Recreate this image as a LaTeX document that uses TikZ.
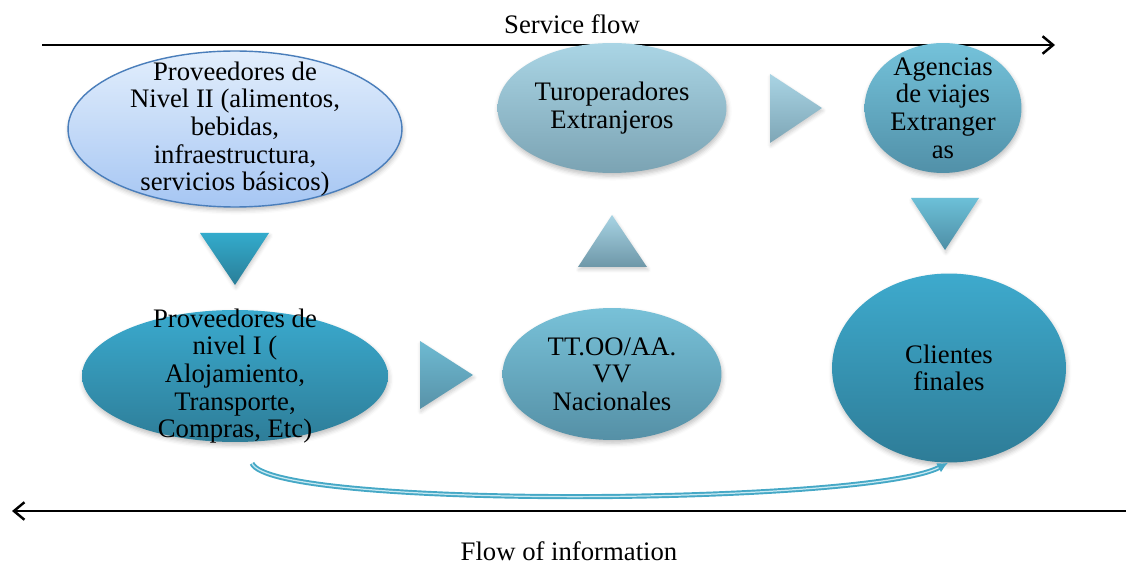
\documentclass[tikz,border=0pt]{standalone}
\usepackage{fontspec}
\setmainfont{Liberation Serif}
\usetikzlibrary{calc,shapes.geometric,arrows.meta,shadows.blur}

%% fills of the bubbles (top/bottom of each gradient)
\definecolor{nivIItop}{HTML}{E2EEFC}
\definecolor{nivIIbot}{HTML}{A6C6F3}
\definecolor{nivIIline}{HTML}{4A7EBB}
\definecolor{nivItop}{HTML}{3AAACE}
\definecolor{nivIbot}{HTML}{2E7D98}
\definecolor{turotop}{HTML}{AAD5E5}
\definecolor{turobot}{HTML}{7BA3B3}
\definecolor{ttootop}{HTML}{78C1D8}
\definecolor{ttoobot}{HTML}{5590A6}
\definecolor{agentop}{HTML}{74C2DA}
\definecolor{agenbot}{HTML}{5190A8}
\definecolor{clitop}{HTML}{3EAACD}
\definecolor{clibot}{HTML}{2E7C97}
%% the pointer triangles
\definecolor{triAtop}{HTML}{33ABCC}
\definecolor{triAbot}{HTML}{2A7E98}
\definecolor{triBtop}{HTML}{6EBAD2}
\definecolor{triBbot}{HTML}{5892A8}
\definecolor{triCtop}{HTML}{A8D4E4}
\definecolor{triCbot}{HTML}{6E97A8}
\definecolor{triDtop}{HTML}{A9D4E4}
\definecolor{triDbot}{HTML}{7EA6B6}
\definecolor{triEtop}{HTML}{6CC0D8}
\definecolor{triEbot}{HTML}{4E8EA5}
%% return arrow
\definecolor{infoblue}{HTML}{45A8C6}
\definecolor{infolight}{HTML}{C9E9F2}

\tikzset{
  bubble/.style={ellipse, inner sep=0pt,
    blur shadow={shadow xshift=0.5pt, shadow yshift=-1.8pt,
      shadow blur radius=2.5pt, shadow opacity=25}},
  bubbletext/.style={align=center, inner sep=0pt,
    font=\fontsize{15.2}{15.7}\selectfont},
  flowtext/.style={inner sep=0pt, font=\fontsize{15.2}{15.7}\selectfont},
  flowline/.style={line width=1.4pt},
  infoarrow/.style={draw=infoblue, double=infolight, double distance=0.7pt,
    line width=1.1pt},
}

\begin{document}
\begin{tikzpicture}[x=0.02cm,y=-0.02cm]
  \useasboundingbox (0,0) rectangle (1126,564);

  %% the two flows
  \coordinate (SFa) at (42,45);
  \coordinate (SFb) at (1055,45);
  \coordinate (FIa) at (1126,511);
  \coordinate (FIb) at (12,511);
  \draw[flowline, -{Straight Barb[length=6pt,width=10pt]}] (SFa) -- (SFb);
  \draw[flowline, -{Straight Barb[length=6pt,width=10pt]}] (FIa) -- (FIb);
  \node[flowtext] (SF) at (572,24) {Service flow};
  \node[flowtext] (FI) at (569,551) {Flow of information};

  %% pointers between the bubbles
  \foreach \a/\b/\c/\ct/\cb in {
      {(200,233)}/{(269,233)}/{(235,285)}/triAtop/triAbot,
      {(420,341)}/{(420,409)}/{(473,375)}/triBtop/triBbot,
      {(578,267)}/{(647,267)}/{(612,215)}/triCtop/triCbot,
      {(770,74)}/{(770,143)}/{(822,108)}/triDtop/triDbot,
      {(911,198)}/{(979,198)}/{(945,250)}/triEtop/triEbot}
  {
    \shade[top color=\ct, bottom color=\cb,
      blur shadow={shadow xshift=0.5pt, shadow yshift=-1.5pt,
        shadow blur radius=2pt, shadow opacity=20}]
      \a -- \b -- \c -- cycle;
  }

  %% the actors (shapes first, texts on top)
  \node[bubble, minimum width=6.68cm, minimum height=3.12cm,
    top color=nivIItop, bottom color=nivIIbot, draw=nivIIline, line width=0.8pt]
    (nivII) at (235,129) {};
  \node[bubble, minimum width=6.12cm, minimum height=2.64cm,
    top color=nivItop, bottom color=nivIbot] (nivI) at (235,376) {};
  \node[bubble, minimum width=4.58cm, minimum height=2.6cm,
    top color=turotop, bottom color=turobot] (turo) at (612,108) {};
  \node[bubble, minimum width=4.38cm, minimum height=2.64cm,
    top color=ttootop, bottom color=ttoobot] (ttoo) at (612,374) {};
  \node[bubble, minimum width=3.14cm, minimum height=2.6cm,
    top color=agentop, bottom color=agenbot] (agen) at (943,108) {};
  \node[bubble, minimum width=4.68cm, minimum height=3.78cm,
    top color=clitop, bottom color=clibot] (cli) at (949,368) {};

  \node[bubbletext] (nivIItxt) at (nivII)
    {Proveedores de\\Nivel II (alimentos,\\bebidas,\\infraestructura,\\servicios básicos)};
  \node[bubbletext] (nivItxt) at (nivI)
    {Proveedores de\\nivel I (\\Alojamiento,\\Transporte,\\Compras, Etc)};
  \node[bubbletext] (turotxt) at (turo) {Turoperadores\\Extranjeros};
  \node[bubbletext] (ttootxt) at (ttoo) {TT.OO/AA.\\VV\\Nacionales};
  \node[bubbletext] (agentxt) at (agen) {Agencias\\de viajes\\Extranger\\as};
  \node[bubbletext] (clitxt) at (cli) {Clientes\\finales};

  %% information goes back from the clients
  \draw[infoarrow, -{Latex[length=6pt,width=6pt]}]
    ($(nivI.south)+(17,21)$) .. controls +(20,46) and +(-80,42) .. ($(cli.south)+(-1,0)$);
\end{tikzpicture}
\end{document}
